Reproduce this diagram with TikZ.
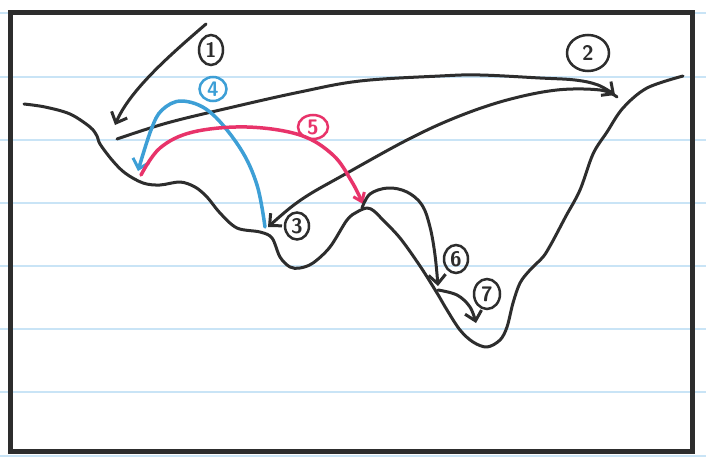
\documentclass[tikz,border=0pt]{standalone}
\usetikzlibrary{arrows.meta,shapes.geometric}
\definecolor{ink}{HTML}{2D2D2D}
\definecolor{rule}{HTML}{C9E4F6}
\definecolor{bl}{HTML}{3D9FD6}
\definecolor{pk}{HTML}{E8336A}
\tikzset{
  ruleline/.style={rule, line width=2pt},
  frame/.style={draw=ink, line width=5pt, line join=miter},
  stroke/.style={ink, line width=3pt, line cap=round, line join=round},
  arr/.style={stroke, -{Straight Barb[length=9pt,width=17pt,line width=3pt]}},
  barr/.style={arr, bl, line width=3.5pt},
  parr/.style={arr, pk, line width=3.5pt, -{Straight Barb[length=8pt,width=12pt,line width=3pt]}},
  lab/.style={ellipse, draw=ink, line width=2.5pt, inner sep=0pt, text=ink,
    font=\sffamily\bfseries\fontsize{21}{21}\selectfont}
}
\begin{document}
\begin{tikzpicture}[x=1pt,y=-1pt]
\useasboundingbox (0,0) rectangle (706,460);
\fill[white] (0,0) rectangle (706,460);
% ruled lines
\foreach \yy in {13,77,140,203,266,329,392,456}
  \draw[ruleline] (0,\yy) -- (706,\yy);
% frame
\draw[frame] (10.5,12.5) rectangle (692.5,451);
% landscape
\draw[stroke] plot[smooth, tension=0.55] coordinates {
 (24,104) (45,107) (70,114) (90,127) (97,136) (100,144) (112,160) (125,173)
 (143,183) (160,185) (180,182) (195,187) (207,197) (220,213) (237,228) (260,232)
 (272,238) (280,257) (290,267) (300,268) (313,263) (330,247) (347,220) (357,212)
 (367,208) (374,211) (382,219) (400,238) (420,266) (437,293) (447,310) (460,330)
 (473,342) (487,347) (500,340) (507,327) (513,303) (520,283) (530,270) (543,257)
 (550,246) (556,235) (566,216) (580,190) (593,154) (607,132) (623,108) (647,88) (683,76)};
% labels
\node[lab, minimum width=24pt, minimum height=30pt] (l1) at (211,50) {1};
\node[lab, minimum width=42pt, minimum height=36pt] (l2) at (588,53) {2};
\node[lab, minimum width=24pt, minimum height=27pt] (l3) at (297,226) {3};
\node[lab, draw=bl, text=bl, minimum width=27pt, minimum height=24pt] (l4) at (213,89) {4};
\node[lab, draw=pk, text=pk, minimum width=30pt, minimum height=24pt] (l5) at (313,127) {5};
\node[lab, minimum width=24pt, minimum height=28pt] (l6) at (456,259) {6};
\node[lab, minimum width=26pt, minimum height=30pt] (l7) at (487,294) {7};
% connector end points
\coordinate (s1) at (206,24);   \coordinate (e1) at (115,125);
\coordinate (s2) at (117,139);  \coordinate (e2) at (615,95);
\coordinate (s3) at (617,97);   \coordinate (e3) at (268,227);
\coordinate (s4) at (265,227);  \coordinate (e4) at (138,171);
\coordinate (s5) at (141,175);  \coordinate (e5) at (363,204);
\coordinate (s6) at (362,208);  \coordinate (e6) at (438,286);
\coordinate (s7) at (438,290);  \coordinate (e7) at (476,323);
% arrows
\draw[arr] (s1) .. controls (170,55) and (130,90) .. (e1);
\draw[arr] plot[smooth, tension=0.6] coordinates {(s2) (167,123) (233,107) (300,92) (360,81) (440,76) (480,75) (540,78) (575,80) (598,85) (e2)};
\draw[arr] plot[smooth, tension=0.6] coordinates {(s3) (600,90) (557,90) (507,100) (457,117) (407,140) (340,177) (310,194) (290,208) (e3)};
\draw[barr] plot[smooth, tension=0.6] coordinates {(s4) (257,185) (240,148) (210,112) (182,101) (162,110) (151,130) (e4)};
\draw[parr] plot[smooth, tension=0.6] coordinates {(s5) (160,148) (193,132) (247,127) (300,135) (333,155) (352,182) (e5)};
\draw[arr] plot[smooth, tension=0.6] coordinates {(s6) (370,194) (388,188) (407,192) (422,205) (430,227) (435,255) (e6)};
\draw[arr] plot[smooth, tension=0.6] coordinates {(s7) (457,295) (470,307) (e7)};
\end{tikzpicture}
\end{document}
